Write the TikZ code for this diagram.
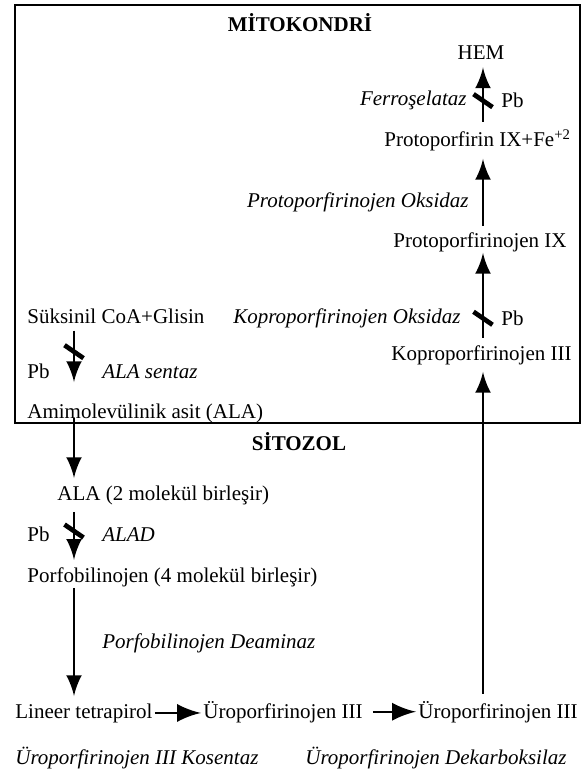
\documentclass[tikz,border=0pt]{standalone}
\usepackage{fontspec}
\setmainfont{Liberation Serif}
\usepackage{tikz}
\usetikzlibrary{arrows}
\usetikzlibrary{decorations.markings}
\tikzset{reaction/.style = {line width=1.3pt, shorten >=3pt,
                            decoration={markings,
                                        mark=at position 1 with {\arrow[scale=1.55]{latex}}},
                            postaction={decorate}}}
\tikzset{transfer/.style = {line width=0.8pt, shorten >=3pt,
                            decoration={markings,
                                        mark=at position 1 with {\arrow[scale=2.3]{latex}}},
                            postaction={decorate}}}
\tikzset{inhibit/.style = {line width=2.35pt}}
\tikzset{compound/.style = {font=\fontsize{10.5}{12}\selectfont, inner xsep=1pt, inner ysep=3.5pt}}
\tikzset{enzyme/.style = {compound, font=\fontsize{10.5}{12}\selectfont\itshape}}
\tikzset{region/.style = {compound, font=\fontsize{10.5}{12}\selectfont\bfseries}}

\begin{document}
\begin{tikzpicture}[x=0.5pt, y=-0.5pt]
      \useasboundingbox (0, 0) rectangle (583, 775);
      \draw [line width=1pt] (15, 5) rectangle (580, 423);

      \coordinate (rcol) at (483, 0);
      \coordinate (lcol) at (74, 0);

      \node [region, anchor=base] (mito) at (300, 32) {MİTOKONDRİ};
      \node [compound, anchor=base] (hem) at (481, 60) {HEM};
      \node [enzyme, anchor=base east] (ferro) at (469, 106) {Ferroşelataz};
      \node [compound, anchor=base west] (pbferro) at (499, 108) {Pb};
      \node [compound, anchor=base west] (protofe) at (382, 147) {Protoporfirin IX+Fe\textsuperscript{+2}};
      \node [enzyme, anchor=base east] (protoox) at (471, 207) {Protoporfirinojen Oksidaz};
      \node [compound, anchor=base west] (protoix) at (391, 248) {Protoporfirinojen IX};
      \node [compound, anchor=base west] (suksinil) at (25, 323) {Süksinil CoA+Glisin};
      \node [enzyme, anchor=base east] (koproox) at (463, 323) {Koproporfirinojen Oksidaz};
      \node [compound, anchor=base west] (pbkopro) at (499, 325) {Pb};
      \node [compound, anchor=base west] (kopro) at (389, 360) {Koproporfirinojen III};
      \node [compound, anchor=base west] (pbala) at (25, 378) {Pb};
      \node [enzyme, anchor=base west] (alasentaz) at (100, 378) {ALA sentaz};
      \node [compound, anchor=base west] (amino) at (25, 418) {Amimolevülinik asit (ALA)};

      \node [region, anchor=base] (sitozol) at (299, 450) {SİTOZOL};
      \node [compound, anchor=base west] (ala2) at (55, 500) {ALA (2 molekül birleşir)};
      \node [compound, anchor=base west] (pbalad) at (25, 541) {Pb};
      \node [enzyme, anchor=base west] (alad) at (100, 541) {ALAD};
      \node [compound, anchor=base west] (porfo) at (25, 582) {Porfobilinojen (4 molekül birleşir)};
      \node [enzyme, anchor=base west] (deaminaz) at (100, 648) {Porfobilinojen Deaminaz};
      \node [compound, anchor=base west] (lineer) at (13, 718) {Lineer tetrapirol};
      \node [compound, anchor=base west] (uro1) at (201, 718) {Üroporfirinojen III};
      \node [compound, anchor=base west] (uro2) at (416, 718) {Üroporfirinojen III};
      \node [enzyme, anchor=base west] (kosentaz) at (13, 764) {Üroporfirinojen III Kosentaz};
      \node [enzyme, anchor=base west] (dekarb) at (303, 764) {Üroporfirinojen Dekarboksilaz};

      \draw [reaction] (protofe.north -| rcol) -- (hem.south -| rcol) coordinate [pos=0.39] (ferrobar);
      \draw [reaction] (protoix.north -| rcol) -- (protofe.south -| rcol);
      \draw [reaction] (kopro.north -| rcol) -- ([yshift=3.5pt]protoix.south -| rcol) coordinate [pos=0.23] (koprobar);
      \draw [reaction] (uro2.north -| rcol) -- (kopro.south -| rcol);

      \draw [reaction] (suksinil.south -| lcol) -- ([yshift=7pt]amino.north -| lcol) coordinate [pos=0.41] (suksinilbar);
      \draw [reaction] (amino.base -| lcol) -- (ala2.north -| lcol);
      \draw [reaction] (ala2.south -| lcol) -- (porfo.north -| lcol) coordinate [pos=0.4] (aladbar);
      \draw [reaction] ([yshift=3pt]porfo.south -| lcol) -- (lineer.north -| lcol);

      \draw [transfer] (lineer.east) -- (lineer.east -| uro1.west);
      \draw [transfer] ([xshift=4pt]uro1.east) -- (uro2.west);

      \foreach \bar in {ferrobar, koprobar, suksinilbar, aladbar} {
        \draw [inhibit] (\bar) +(-9.5, -6.5) -- +(9.5, 6.5);
      }
    \end{tikzpicture}
\end{document}
